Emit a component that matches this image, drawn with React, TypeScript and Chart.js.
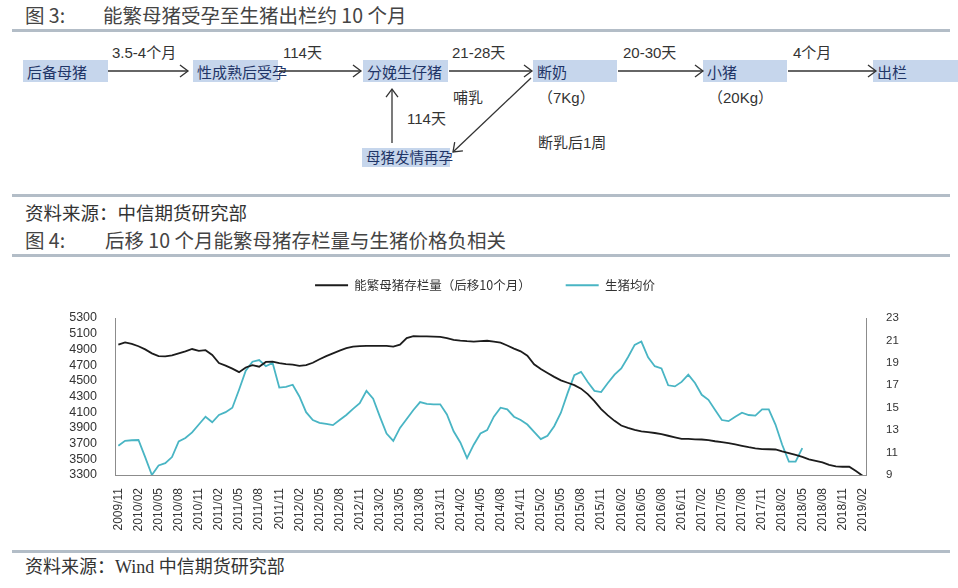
import { useEffect, useRef } from 'react'
import { Chart, registerables } from 'chart.js'

Chart.register(...registerables)

// monthly categories 2009/11 .. 2019/02
const START_YEAR = 2009
const START_MONTH = 11
const MONTH_COUNT = 112
const months: string[] = []
for (let k = 0; k < MONTH_COUNT; k++) {
  const m = START_MONTH - 1 + k
  months.push(`${START_YEAR + Math.floor(m / 12)}/${String((m % 12) + 1).padStart(2, '0')}`)
}

const seriesNames = ['能繁母猪存栏量（后移10个月）', '生猪均价']

// 能繁母猪存栏量, shifted 10 months (left axis)
const sowStock = [
  4960, 4990, 4970, 4940, 4900, 4850, 4815, 4810, 4825, 4850,
  4875, 4905, 4882, 4890, 4830, 4727, 4693, 4655, 4610, 4670,
  4700, 4680, 4740, 4745, 4725, 4712, 4705, 4690, 4700, 4730,
  4775, 4815, 4850, 4885, 4915, 4935, 4942, 4945, 4945, 4945,
  4945, 4935, 4960, 5045, 5068, 5065, 5065, 5062, 5060, 5045,
  5022, 5012, 5005, 5000, 5005, 5010, 5000, 4985, 4950, 4910,
  4875, 4820, 4710, 4650, 4600, 4550, 4505, 4475, 4445, 4400,
  4330, 4240, 4140, 4060, 3990, 3930, 3900, 3875, 3855, 3845,
  3835, 3820, 3800, 3780, 3760, 3760, 3755, 3752, 3745, 3730,
  3718, 3705, 3690, 3672, 3655, 3640, 3630, 3628, 3625, 3600,
  3580, 3555, 3530, 3500, 3480, 3460, 3430, 3410, 3405, 3405,
  3350, 3290,
]

// 生猪均价 (right axis), ends 2018/05
const hogPrice = [
  11.6, 12.05, 12.1, 12.12, 10.6, 9.0, 9.85, 10.05, 10.6, 12.0,
  12.3, 12.8, 13.5, 14.2, 13.7, 14.35, 14.6, 15.0, 16.6, 18.3,
  19.1, 19.25, 18.7, 19.0, 16.8, 16.85, 17.05, 16.0, 14.6, 13.9,
  13.65, 13.55, 13.45, 13.9, 14.35, 14.9, 15.4, 16.5, 15.8, 14.2,
  12.7, 12.04, 13.2, 14.0, 14.8, 15.5, 15.35, 15.3, 15.3, 14.4,
  12.9, 11.9, 10.5, 11.7, 12.7, 13.0, 14.2, 15.0, 14.85, 14.2,
  13.9, 13.5, 12.85, 12.2, 12.5, 13.35, 14.55, 16.3, 17.9, 18.2,
  17.3, 16.5, 16.4, 17.2, 17.95, 18.5, 19.5, 20.6, 20.9, 19.5,
  18.7, 18.5, 17.0, 16.9, 17.3, 17.95, 17.2, 16.15, 15.7, 14.8,
  13.9, 13.8, 14.2, 14.55, 14.35, 14.3, 14.85, 14.85, 13.5, 11.7,
  10.2, 10.2, 11.4,
]

const CJK = '"Noto Sans CJK SC", sans-serif'
const SANS = '"Liberation Sans", "Noto Sans CJK SC", sans-serif'

// pushes the plot area down below the legend
const legendSpacer = {
  id: 'legendSpacer',
  beforeInit(chart: any) {
    if (!chart.legend) return
    const fit = chart.legend.fit
    chart.legend.fit = function () {
      fit.call(this)
      this.height += 16.5
    }
  },
}

function PriceChart() {
  const canvasRef = useRef<HTMLCanvasElement>(null)

  useEffect(() => {
    if (!canvasRef.current) return
    const chart = new Chart(canvasRef.current, {
      type: 'line',
      data: {
        labels: months,
        datasets: [
          {
            label: seriesNames[0],
            data: sowStock,
            yAxisID: 'y',
            borderColor: '#1c1c1c',
            backgroundColor: '#1c1c1c',
            borderWidth: 1.8,
            pointRadius: 0,
            tension: 0,
          },
          {
            label: seriesNames[1],
            data: hogPrice,
            yAxisID: 'y1',
            borderColor: '#49b5c4',
            backgroundColor: '#49b5c4',
            borderWidth: 1.8,
            pointRadius: 0,
            tension: 0,
          },
        ],
      },
      options: {
        animation: false,
        responsive: false,
        maintainAspectRatio: false,
        layout: { padding: 0 },
        plugins: {
          legend: {
            labels: {
              boxWidth: 33,
              boxHeight: 0,
              padding: 35,
              color: '#333',
              font: { family: CJK, size: 12.5 },
            },
          },
          tooltip: { enabled: false },
        },
        scales: {
          x: {
            offset: true,
            grid: { display: false },
            border: { color: '#8c8c8c', width: 1 },
            ticks: {
              autoSkip: false,
              minRotation: 90,
              maxRotation: 90,
              padding: 5,
              color: '#333',
              font: { family: SANS, size: 12 },
              callback: (_v: any, i: number) => (i % 3 === 0 ? months[i] : ''),
            },
            afterFit: (s: any) => {
              s.height = 69
            },
          },
          y: {
            position: 'left',
            min: 3300,
            max: 5300,
            grid: { display: false },
            border: { color: '#8c8c8c', width: 1 },
            ticks: {
              stepSize: 200,
              autoSkip: false,
              padding: 10,
              color: '#333',
              font: { family: SANS, size: 12.5 },
              callback: (v: any) => String(v),
            },
            afterFit: (s: any) => {
              s.width = 75
            },
          },
          y1: {
            position: 'right',
            min: 9,
            max: 23,
            grid: { display: false },
            border: { color: '#8c8c8c', width: 1 },
            ticks: {
              stepSize: 2,
              autoSkip: false,
              padding: 12,
              color: '#333',
              font: { family: SANS, size: 11.5 },
              callback: (v: any) => String(v),
            },
            afterFit: (s: any) => {
              s.width = 64
            },
          },
        },
      },
      plugins: [legendSpacer],
    })
    return () => chart.destroy()
  }, [])

  return (
    <canvas
      ref={canvasRef}
      width={890}
      height={300}
      style={{ position: 'absolute', left: 40, top: 244, width: 890, height: 300 }}
    />
  )
}

function Text({ x, y, size, children, color = '#333', family = SANS }: any) {
  return (
    <div
      style={{
        position: 'absolute',
        left: x,
        top: y - size / 2,
        fontSize: size,
        lineHeight: `${size}px`,
        fontFamily: family,
        color,
        whiteSpace: 'nowrap',
      }}
    >
      {children}
    </div>
  )
}

function Box({ x, y, w, h, label, size = 15 }: any) {
  return (
    <>
      <div style={{ position: 'absolute', left: x, top: y, width: w, height: h, background: '#c6d6ec' }} />
      <Text x={x + 4} y={y + h / 2} size={size} color="#1f3567" family={CJK}>
        {label}
      </Text>
    </>
  )
}

function Arrow({ x1, y1, x2, y2 }: any) {
  const a = Math.atan2(y2 - y1, x2 - x1)
  const len = 10
  const spread = 0.64
  const p1 = `${x2 - len * Math.cos(a - spread)},${y2 - len * Math.sin(a - spread)}`
  const p2 = `${x2 - len * Math.cos(a + spread)},${y2 - len * Math.sin(a + spread)}`
  return (
    <g stroke="#333" strokeWidth={1.3} fill="none">
      <line x1={x1} y1={y1} x2={x2} y2={y2} />
      <polyline points={`${p1} ${x2},${y2} ${p2}`} />
    </g>
  )
}

function Rule({ y }: any) {
  return <div style={{ position: 'absolute', left: 12, top: y, width: 938, height: 3, background: '#b3bdc7' }} />
}

export default function App() {
  return (
    <div
      style={{
        position: 'absolute',
        left: 0,
        top: 0,
        width: 958,
        height: 588,
        overflow: 'hidden',
        background: '#fff',
      }}
    >
      <Text x={25} y={15} size={19.5} color="#444" family={CJK}>图 3:</Text>
      <Text x={103} y={15} size={19.5} color="#444" family={CJK}>能繁母猪受孕至生猪出栏约 10 个月</Text>
      <Rule y={29} />

      <Box x={23} y={60} w={85} h={22} label="后备母猪" />
      <Box x={193} y={60} w={85} h={22} label="性成熟后受孕" />
      <Box x={363} y={60} w={85} h={22} label="分娩生仔猪" />
      <Box x={533} y={60} w={84} h={22} label="断奶" />
      <Box x={703} y={60} w={84} h={22} label="小猪" />
      <Box x={873} y={60} w={85} h={22} label="出栏" />
      <Box x={362} y={148} w={88} h={19} label="母猪发情再孕" size={14.5} />

      <svg width={958} height={200} style={{ position: 'absolute', left: 0, top: 0 }}>
        <Arrow x1={108} y1={71} x2={188} y2={71} />
        <Arrow x1={279} y1={71} x2={361} y2={71} />
        <Arrow x1={449} y1={71} x2={532} y2={71} />
        <Arrow x1={618} y1={71} x2={703} y2={71} />
        <Arrow x1={788} y1={71} x2={876} y2={71} />
        <Arrow x1={392} y1={143} x2={392} y2={89} />
        <Arrow x1={531} y1={78} x2={453} y2={152} />
      </svg>

      <Text x={112} y={52} size={15}>3.5-4个月</Text>
      <Text x={283} y={52} size={15}>114天</Text>
      <Text x={452} y={52} size={15}>21-28天</Text>
      <Text x={623} y={52} size={15}>20-30天</Text>
      <Text x={793} y={52} size={15}>4个月</Text>
      <Text x={407} y={118} size={15}>114天</Text>
      <Text x={453} y={97} size={15}>哺乳</Text>
      <Text x={538} y={97} size={15}>（7Kg）</Text>
      <Text x={708} y={97} size={15}>（20Kg）</Text>
      <Text x={538} y={142} size={15}>断乳后1周</Text>

      <Rule y={194} />
      <Text x={25} y={212} size={18.5} family={CJK}>资料来源：中信期货研究部</Text>
      <Text x={25} y={240} size={19.5} color="#444" family={CJK}>图 4:</Text>
      <Text x={105} y={240} size={19.5} color="#444" family={CJK}>后移 10 个月能繁母猪存栏量与生猪价格负相关</Text>
      <Rule y={254} />

      <PriceChart />

      <Rule y={550} />
      <Text x={25} y={567} size={18} family={'"Liberation Serif", "Noto Sans CJK SC", serif'}>
        资料来源：Wind 中信期货研究部
      </Text>
    </div>
  )
}
